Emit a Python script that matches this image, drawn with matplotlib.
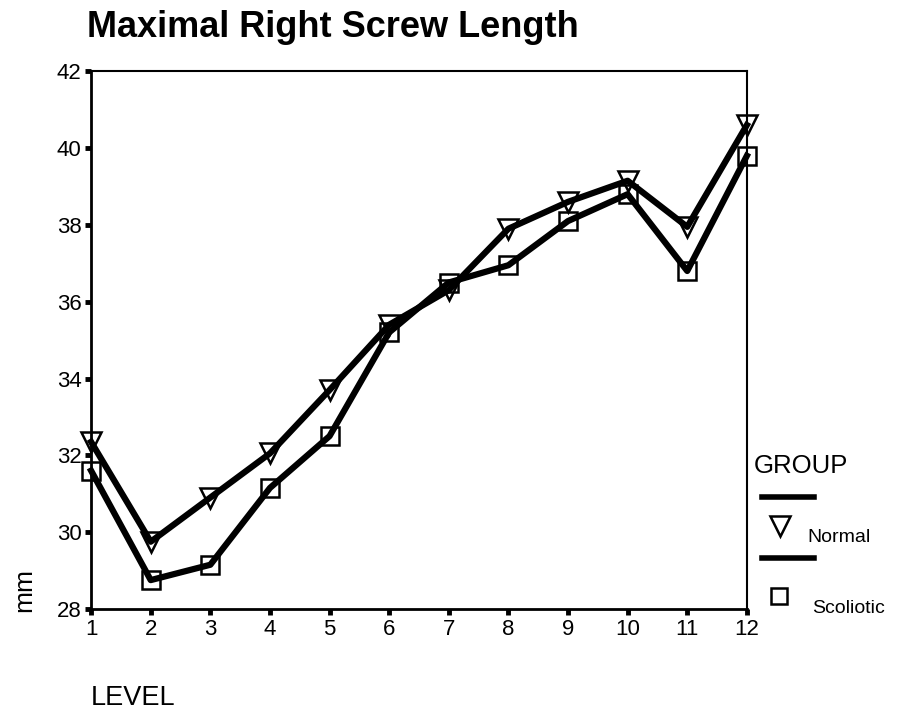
import numpy as np
import matplotlib.pyplot as plt
from matplotlib.lines import Line2D

plt.rcParams['font.family'] = ['Liberation Sans', 'DejaVu Sans']

# datos
levels = [1, 2, 3, 4, 5, 6, 7, 8, 9, 10, 11, 12]
normal = [32.35, 29.75, 30.9, 32.05, 33.7, 35.4, 36.3, 37.9, 38.6, 39.15, 37.95, 40.6]
scoliotic = [31.6, 28.75, 29.15, 31.15, 32.5, 35.2, 36.5, 36.95, 38.1, 38.8, 36.8, 39.8]
yticks = [28, 30, 32, 34, 36, 38, 40, 42]

fig = plt.figure(figsize=(9.02, 7.13), dpi=100)
ax = fig.add_axes([0.101, 0.146, 0.727, 0.754])

ax.plot(levels, normal, color='black', lw=4.5, marker='v', ms=15,
        mfc='none', mec='black', mew=1.8, clip_on=False, zorder=3)
ax.plot(levels, scoliotic, color='black', lw=4.5, marker='s', ms=13,
        mfc='none', mec='black', mew=1.8, clip_on=False, zorder=3)

ax.set_xlim(1, 12)
ax.set_ylim(28, 42)
ax.set_xticks(levels)
ax.set_yticks(yticks)
ax.tick_params(labelsize=16, length=4, width=3.5, direction='out', pad=3)
for s in ['left', 'bottom']:
    ax.spines[s].set_linewidth(2)
for s in ['top', 'right']:
    ax.spines[s].set_linewidth(1.5)

fig.text(0.096, 1 - 37 / 713, 'Maximal Right Screw Length', fontsize=26,
         fontweight='bold', ha='left', va='baseline')
fig.text(0.027, 0.1725, 'mm', fontsize=19, rotation=90, ha='center', va='center')
fig.text(0.101, 0.021, 'LEVEL', fontsize=19.5, ha='left', va='center')

# leyenda dibujada a mano
fig.text(0.836, 1 - 473 / 713, 'GROUP', fontsize=18.5, ha='left', va='baseline')
fig.add_artist(Line2D([0.845, 0.902], [1 - 497 / 713] * 2, color='black', lw=4,
                      transform=fig.transFigure))
fig.add_artist(Line2D([0.865], [1 - 526 / 713], marker='v', ms=15, mfc='none', mec='black',
                      mew=1.8, ls='none', transform=fig.transFigure))
fig.text(0.895, 1 - 542 / 713, 'Normal', fontsize=14, ha='left', va='baseline')
fig.add_artist(Line2D([0.845, 0.902], [1 - 558 / 713] * 2, color='black', lw=4,
                      transform=fig.transFigure))
fig.add_artist(Line2D([0.864], [1 - 596 / 713], marker='s', ms=12, mfc='none', mec='black',
                      mew=1.8, ls='none', transform=fig.transFigure))
fig.text(0.900, 1 - 613 / 713, 'Scoliotic', fontsize=14, ha='left', va='baseline')

fig.savefig('out.png', dpi=100)
